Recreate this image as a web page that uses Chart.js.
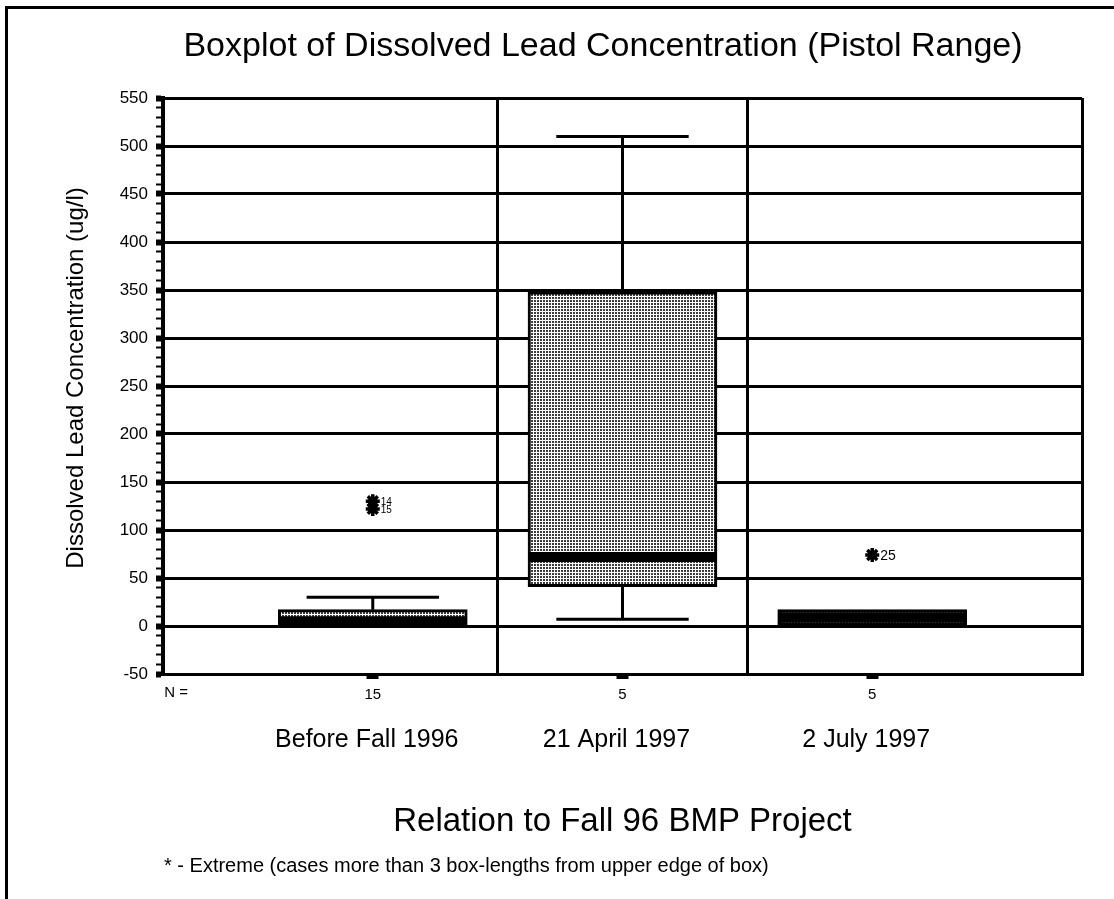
<!DOCTYPE html>
<html>
<head>
<meta charset="utf-8">
<script src="https://cdn.jsdelivr.net/npm/chart.js@4.4.1/dist/chart.umd.min.js"></script>
<style>
  html, body { margin: 0; padding: 0; background: #ffffff; }
  #wrap { position: relative; width: 1114px; height: 899px; }
  canvas { display: block; }
</style>
</head>
<body>
<div id="wrap"><canvas id="c" width="1114" height="899"></canvas></div>
<script>
// ---------------- data ----------------
const categories = ['Before Fall 1996', '21 April 1997', '2 July 1997'];
const nCounts = [15, 5, 5];
const q1 = [-1, 41, 1];
const medians = [5, 72, 9];
const q3 = [17, 348, 17];
const whiskerLow = [-1, 7, 1];
const whiskerHigh = [30, 510, 17];
const extremeGroup = [1, 1, 3];
const extremeValue = [130, 122, 74];
const extremeCase = ['14', '15', '25'];
const yTickLabels = [-50, 0, 50, 100, 150, 200, 250, 300, 350, 400, 450, 500, 550];

const titleText = 'Boxplot of Dissolved Lead Concentration (Pistol Range)';
const yTitleText = 'Dissolved Lead Concentration (ug/l)';
const xTitleText = 'Relation to Fall 96 BMP Project';
const nLabelText = 'N =';
const footnoteText = '* - Extreme (cases more than 3 box-lengths from upper edge of box)';

// ---------------- styles ----------------
const FONT = '"Liberation Sans", Arial, Helvetica, sans-serif';
const BOX_PX = 189;          // box width in pixels
const BOX_HALF = 0.378;      // half box width in category units
const CAP_HALF = 0.265;      // half whisker-cap width in category units

const canvas = document.getElementById('c');
const ctx0 = canvas.getContext('2d');
const pc = document.createElement('canvas');
pc.width = 3; pc.height = 3;
const pctx = pc.getContext('2d');
pctx.fillStyle = '#ffffff'; pctx.fillRect(0, 0, 3, 3);
pctx.fillStyle = '#3c3c3c'; pctx.fillRect(0, 0, 2, 2);
const stipple = ctx0.createPattern(pc, 'repeat');

// ---------------- derived datasets ----------------
const boxData = categories.map((c, i) => ({ x: i + 1, y: [q1[i], q3[i]] }));

const whiskerData = [];
categories.forEach((c, i) => {
  const xc = i + 1;
  if (whiskerHigh[i] > q3[i]) {
    whiskerData.push({ x: xc, y: q3[i] }, { x: xc, y: whiskerHigh[i] }, { x: xc, y: null });
    whiskerData.push({ x: xc - CAP_HALF, y: whiskerHigh[i] }, { x: xc + CAP_HALF, y: whiskerHigh[i] }, { x: xc, y: null });
  }
  if (whiskerLow[i] < q1[i]) {
    whiskerData.push({ x: xc, y: q1[i] }, { x: xc, y: whiskerLow[i] }, { x: xc, y: null });
    whiskerData.push({ x: xc - CAP_HALF, y: whiskerLow[i] }, { x: xc + CAP_HALF, y: whiskerLow[i] }, { x: xc, y: null });
  }
});

const medianData = [];
categories.forEach((c, i) => {
  const xc = i + 1;
  medianData.push({ x: xc - BOX_HALF + 0.006, y: medians[i] }, { x: xc + BOX_HALF - 0.006, y: medians[i] }, { x: xc, y: null });
});

const extremeData = extremeGroup.map((g, i) => ({ x: g, y: extremeValue[i] }));

// ---------------- text / frame plugin ----------------
const decorPlugin = {
  id: 'decor',
  beforeDraw(chart) {
    const c = chart.ctx;
    c.save();
    c.fillStyle = '#ffffff';
    c.fillRect(0, 0, chart.width, chart.height);
    c.strokeStyle = '#000';
    c.lineWidth = 3;
    c.beginPath();
    c.moveTo(1114, 7.5);
    c.lineTo(6.5, 7.5);
    c.lineTo(6.5, 899);
    c.stroke();
    c.restore();
  },
  afterDraw(chart) {
    const c = chart.ctx;
    const xs = chart.scales.x, ys = chart.scales.y;
    const a = chart.chartArea;
    c.save();
    c.fillStyle = '#000';
    c.textBaseline = 'middle';

    // title
    c.textAlign = 'center';
    c.font = '34px ' + FONT;
    c.fillText(titleText, 603, 47);

    // y-axis title
    c.save();
    c.translate(76, (a.top + a.bottom) / 2 - 8);
    c.rotate(-Math.PI / 2);
    c.font = '24px ' + FONT;
    c.fillText(yTitleText, 0, 0);
    c.restore();

    // N =
    c.textAlign = 'right';
    c.font = '15px ' + FONT;
    c.fillText(nLabelText, 188, 693);

    // category labels
    c.textAlign = 'center';
    c.font = '25px ' + FONT;
    categories.forEach((lab, i) => {
      c.fillText(lab, xs.getPixelForValue(i + 1) - 6, 740);
    });

    // x-axis title
    c.font = '33px ' + FONT;
    c.fillText(xTitleText, (a.left + a.right) / 2, 822);

    // footnote
    c.textAlign = 'left';
    c.font = '20px ' + FONT;
    c.fillText(footnoteText, 164, 866);

    // extreme case labels
    extremeGroup.forEach((g, i) => {
      const crowded = extremeGroup.some((g2, j) => j !== i && g2 === g && Math.abs(extremeValue[j] - extremeValue[i]) < 20);
      c.font = (crowded ? '10px ' : '14px ') + FONT;
      c.textAlign = 'left';
      c.fillText(extremeCase[i], xs.getPixelForValue(g) + 8, ys.getPixelForValue(extremeValue[i]) + 1);
    });
    c.restore();
  }
};

// ---------------- chart ----------------
new Chart(canvas, {
  type: 'bar',
  data: {
    datasets: [
      {
        type: 'scatter',
        label: 'Extremes',
        data: extremeData,
        pointStyle: 'star',
        pointRadius: 7,
        pointBorderWidth: 3.5,
        borderColor: '#000',
        backgroundColor: '#000',
        order: 1
      },
      {
        type: 'line',
        label: 'Median',
        data: medianData,
        borderColor: '#000',
        borderWidth: 10,
        borderCapStyle: 'butt',
        pointRadius: 0,
        spanGaps: false,
        fill: false,
        order: 2
      },
      {
        type: 'line',
        label: 'Whiskers',
        data: whiskerData,
        borderColor: '#000',
        borderWidth: 3,
        borderCapStyle: 'butt',
        pointRadius: 0,
        spanGaps: false,
        fill: false,
        order: 3
      },
      {
        type: 'bar',
        label: 'Box',
        data: boxData,
        backgroundColor: stipple,
        borderColor: '#000',
        borderWidth: 3,
        borderSkipped: false,
        barThickness: BOX_PX,
        order: 4
      }
    ]
  },
  options: {
    responsive: false,
    animation: false,
    devicePixelRatio: 1,
    layout: { padding: { top: 98, right: 32, bottom: 0, left: 0 } },
    plugins: {
      legend: { display: false },
      title: { display: false },
      tooltip: { enabled: false }
    },
    scales: {
      x: {
        type: 'linear',
        min: 0.16,
        max: 3.84,
        offset: false,
        afterBuildTicks(scale) {
          scale.ticks = [1, 1.5, 2, 2.5, 3, scale.max].map(v => ({ value: v }));
        },
        afterFit(scale) { scale.height = 225; },
        border: { display: true, color: '#000', width: 3 },
        grid: {
          offset: false,
          drawOnChartArea: true,
          color: (ctx) => (ctx.tick && Number.isInteger(ctx.tick.value)) ? 'rgba(0,0,0,0)' : '#000',
          lineWidth: 3,
          tickColor: (ctx) => (ctx.tick && Number.isInteger(ctx.tick.value)) ? '#000' : 'rgba(0,0,0,0)',
          tickWidth: (ctx) => (ctx.tick && Number.isInteger(ctx.tick.value)) ? 12 : 0,
          tickLength: 5
        },
        ticks: {
          autoSkip: false,
          maxRotation: 0,
          padding: 7,
          color: '#000',
          font: { family: FONT, size: 15 },
          callback: (v) => Number.isInteger(v) ? String(nCounts[v - 1]) : ''
        }
      },
      y: {
        type: 'linear',
        min: -50,
        max: 550,
        afterFit(scale) { scale.width = 163; },
        border: { display: true, color: '#000', width: 4 },
        grid: {
          color: (ctx) => (ctx.tick && yTickLabels.includes(Math.round(ctx.tick.value))) ? '#000' : 'rgba(0,0,0,0)',
          lineWidth: 3,
          tickColor: '#000',
          tickWidth: (ctx) => (ctx.tick && yTickLabels.includes(Math.round(ctx.tick.value))) ? 6 : 2,
          tickLength: 7
        },
        ticks: {
          stepSize: 10,
          autoSkip: false,
          padding: 8,
          color: '#000',
          font: { family: FONT, size: 17 },
          callback: (v) => yTickLabels.includes(Math.round(v)) ? String(Math.round(v)) : ''
        }
      }
    }
  },
  plugins: [decorPlugin]
});
</script>
</body>
</html>
